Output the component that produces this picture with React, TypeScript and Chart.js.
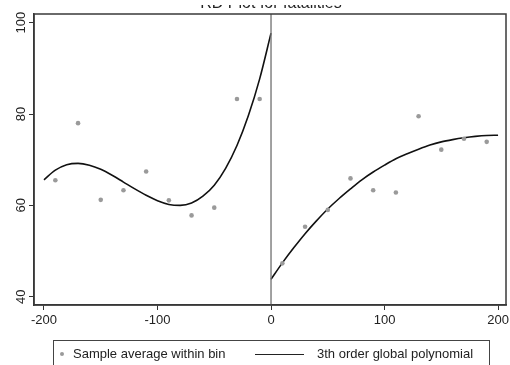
import React, { useEffect, useRef } from "react";
import { Chart, registerables } from "chart.js";

Chart.register(...registerables);

const titleText = "RD Plot for fatalities";
const legendLabels = ["Sample average within bin", "3th order global polynomial"];

// binned sample averages
const binX = [-190, -170, -150, -130, -110, -90, -70, -50, -30, -10, 10, 30, 50, 70, 90, 110, 130, 150, 170, 190];
const binY = [65.5, 78.0, 61.2, 63.3, 67.4, 61.1, 57.8, 59.5, 83.3, 83.3, 47.3, 55.3, 59.0, 65.9, 63.3, 62.8, 79.5, 72.2, 74.6, 73.9];

// fitted curve, left of cutoff
const leftX = [-200, -190, -180, -170, -160, -150, -140, -130, -120, -110, -100, -90, -80, -70, -60, -50, -40, -30, -20, -10, 0];
const leftY = [65.6, 67.7, 68.9, 69.2, 68.8, 67.9, 66.6, 65.1, 63.6, 62.2, 61.0, 60.2, 60.0, 60.5, 62.0, 64.4, 68.1, 73.1, 79.6, 87.7, 97.7];

// fitted curve right of cutoff
const rightX = [0, 10, 20, 30, 40, 50, 60, 70, 80, 90, 100, 110, 120, 130, 140, 150, 160, 170, 180, 190, 200];
const rightY = [43.8, 47.4, 50.7, 53.8, 56.6, 59.2, 61.5, 63.6, 65.6, 67.3, 68.8, 70.2, 71.3, 72.3, 73.2, 73.9, 74.4, 74.8, 75.1, 75.3, 75.35];

const xTicks = [-200, -100, 0, 100, 200];
const yTicks = [40, 60, 80, 100];

const cutoffX = 0;

const FONT = "'Liberation Sans', Arial, sans-serif";

export default function App() {
  const ref = useRef<HTMLCanvasElement | null>(null);

  useEffect(() => {
    if (!ref.current) return;
    const pts = (xs: number[], ys: number[]) => xs.map((x, i) => ({ x, y: ys[i] }));

    const frame = {
      id: "frame",
      afterDraw(chart: any) {
        const { ctx, chartArea: a } = chart;
        ctx.save();
        ctx.strokeStyle = "#3a3a3a";
        ctx.lineWidth = 1.5;
        ctx.strokeRect(a.left, a.top, a.right - a.left, a.bottom - a.top);
        ctx.restore();
      },
    };
    const topTitle = {
      id: "topTitle",
      afterDraw(chart: any) {
        const { ctx } = chart;
        ctx.save();
        ctx.beginPath();
        ctx.rect(0, 5, 510, 4);
        ctx.clip();
        ctx.fillStyle = "#222";
        ctx.font = "16px " + FONT;
        ctx.textAlign = "center";
        ctx.textBaseline = "alphabetic";
        ctx.fillText(titleText, 271, 8);
        ctx.restore();
      },
    };

    const chart = new Chart(ref.current, {
      type: "scatter",
      data: {
        datasets: [
          {
            label: "cutoff",
            data: [
              { x: cutoffX, y: 30 },
              { x: cutoffX, y: 110 },
            ],
            showLine: true,
            borderColor: "#7a7a7a",
            borderWidth: 1.4,
            pointRadius: 0,
          },
          {
            label: legendLabels[0],
            data: pts(binX, binY),
            showLine: false,
            pointRadius: 2.3,
            pointBackgroundColor: "#9a9a9a",
            pointBorderWidth: 0,
            borderColor: "#9a9a9a",
          },
          {
            label: legendLabels[1],
            data: pts(leftX, leftY),
            showLine: true,
            borderColor: "#111",
            borderWidth: 1.6,
            pointRadius: 0,
            cubicInterpolationMode: "monotone",
          },
          {
            label: legendLabels[1] + " (right)",
            data: pts(rightX, rightY),
            showLine: true,
            borderColor: "#111",
            borderWidth: 1.6,
            pointRadius: 0,
            cubicInterpolationMode: "monotone",
          },
        ],
      },
      options: {
        responsive: false,
        animation: false,
        layout: { padding: { left: 0, top: 14, right: 3, bottom: 30 } },
        plugins: {
          legend: { display: false },
          tooltip: { enabled: false },
          title: { display: false },
        },
        scales: {
          x: {
            type: "linear",
            min: -208.8,
            max: 207,
            afterFit: (s: any) => {
              s.height = 30;
              s.paddingLeft = 0;
              s.paddingRight = 0;
            },
            afterBuildTicks: (s: any) => {
              s.ticks = xTicks.map((v) => ({ value: v }));
            },
            ticks: {
              includeBounds: false,
              color: "#222",
              font: { size: 13, family: FONT },
              padding: 3,
              maxRotation: 0,
              minRotation: 0,
            },
            grid: {
              drawOnChartArea: false,
              drawTicks: true,
              tickLength: 5,
              color: "#333",
              lineWidth: 1,
            },
            border: { display: true, color: "#333", width: 1.5 },
          },
          y: {
            type: "linear",
            min: 38.18,
            max: 101.9,
            afterFit: (s: any) => {
              s.width = 34;
              s.paddingTop = 0;
              s.paddingBottom = 0;
            },
            afterBuildTicks: (s: any) => {
              s.ticks = yTicks.map((v) => ({ value: v }));
            },
            ticks: {
              includeBounds: false,
              color: "#222",
              font: { size: 13, family: FONT },
              padding: -3,
              minRotation: 90,
              maxRotation: 90,
              crossAlign: "center",
            },
            grid: {
              drawOnChartArea: false,
              drawTicks: true,
              tickLength: 5,
              color: "#333",
              lineWidth: 1,
            },
            border: { display: true, color: "#333", width: 1.5 },
          },
        },
      },
      plugins: [frame, topTitle],
    } as any);
    return () => chart.destroy();
  }, []);

  return (
    <div
      style={{
        position: "absolute",
        left: 0,
        top: 0,
        width: 510,
        height: 365,
        overflow: "hidden",
        background: "#fff",
        fontFamily: FONT,
      }}
    >
      <canvas ref={ref} width={510} height={365} style={{ position: "absolute", left: 0, top: 0 }} />
      <div
        style={{
          position: "absolute",
          left: 53,
          top: 340,
          width: 437,
          height: 40,
          border: "1px solid #444",
          boxSizing: "border-box",
          fontSize: 13,
          color: "#222",
        }}
      >
        <span
          style={{
            position: "absolute",
            left: 6,
            top: 11,
            width: 4,
            height: 4,
            borderRadius: 2,
            background: "#9a9a9a",
          }}
        />
        <span style={{ position: "absolute", left: 19, top: 5, whiteSpace: "nowrap" }}>{legendLabels[0]}</span>
        <span
          style={{
            position: "absolute",
            left: 201,
            top: 13,
            width: 49,
            height: 0,
            borderTop: "1.5px solid #222",
          }}
        />
        <span style={{ position: "absolute", left: 263, top: 5, whiteSpace: "nowrap" }}>{legendLabels[1]}</span>
      </div>
    </div>
  );
}
